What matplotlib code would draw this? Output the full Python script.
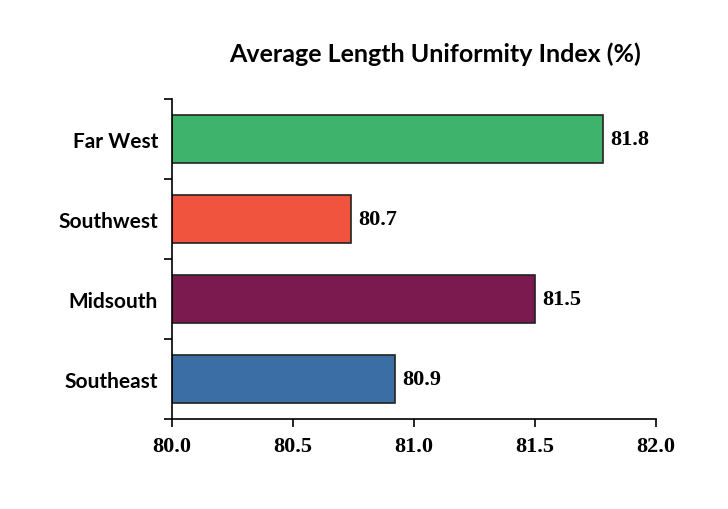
import matplotlib
matplotlib.use("Agg")
import matplotlib.pyplot as plt

regions = ["Far West", "Southwest", "Midsouth", "Southeast"]
bar_values = [81.78, 80.74, 81.50, 80.92]
value_labels = ["81.8", "80.7", "81.5", "80.9"]
colors = ["#3db36b", "#f0533e", "#7b1a4f", "#3a6ea5"]
xticks = [80.0, 80.5, 81.0, 81.5, 82.0]

fig = plt.figure(figsize=(7.28, 5.10), dpi=100)
ax = fig.add_axes([0.236, 0.176, 0.665, 0.628])
ypos = [3, 2, 1, 0]
ax.barh(ypos, [v - 80 for v in bar_values], left=80, height=0.6,
        color=colors, edgecolor="#222222", linewidth=1.2)
for y, v, lab in zip(ypos, bar_values, value_labels):
    ax.text(v + 0.03, y, lab, va="center", ha="left", fontsize=16,
            fontweight="bold", family="Liberation Serif")
ax.set_xlim(80, 82)
ax.set_ylim(-0.5, 3.5)
ax.set_xticks(xticks)
ax.set_xticklabels([f"{t:.1f}" for t in xticks], fontsize=16,
                   fontweight="bold", family="Liberation Serif")
ax.set_yticks([-0.5, 0.5, 1.5, 2.5, 3.5])
ax.set_yticklabels([])
ax.set_yticks(ypos, minor=True)
ax.set_yticklabels(regions, minor=True, fontsize=15, fontweight="bold", family="Lato")
ax.tick_params(axis="y", which="minor", length=0, pad=10)
ax.tick_params(axis="y", which="major", length=6, width=1.2)
ax.tick_params(axis="x", length=6, width=1.2, pad=6)
for s in ["top", "right"]:
    ax.spines[s].set_visible(False)
for s in ["left", "bottom"]:
    ax.spines[s].set_linewidth(1.2)
fig.text(0.597, 0.893, "Average Length Uniformity Index (%)", ha="center",
         va="center", fontsize=18, fontweight="bold", family="Lato")
fig.savefig("out.png", dpi=100)
